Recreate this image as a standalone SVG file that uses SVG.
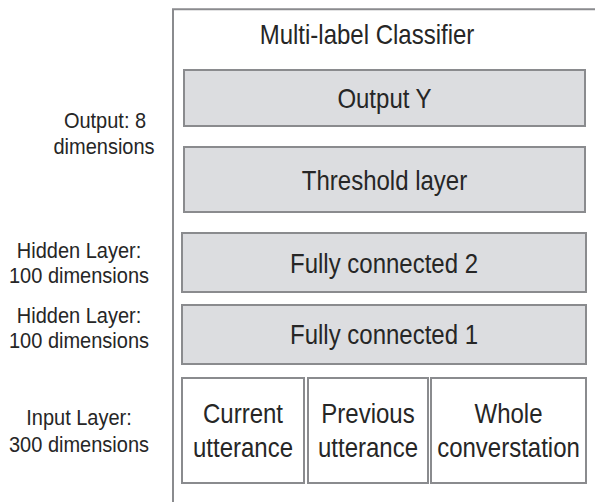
<svg xmlns="http://www.w3.org/2000/svg" width="595" height="502" viewBox="0 0 595 502">
<style>
  .frame { fill: none; stroke: #8a8b8e; stroke-width: 2; }
  .layer { fill: #dcdde0; stroke: #8a8b8e; stroke-width: 2; }
  .input { fill: #ffffff; stroke: #8a8b8e; stroke-width: 2; }
  text { font-family: "Liberation Sans", Arial, sans-serif; fill: #262626; text-anchor: middle; }
  .big { font-size: 24px; }
  .side { font-size: 20px; }
</style>
<rect width="595" height="502" fill="#ffffff"/>
<g id="classifier">
  <path class="frame" d="M173 502 V9.3 H596"/>
  <text class="big" transform="translate(367 43.5) scale(1 1.13)">Multi-label Classifier</text>
</g>
<g id="output-y">
  <rect class="layer" x="184" y="70" width="401" height="56"/>
  <text class="big" transform="translate(384.5 108) scale(1 1.13)">Output Y</text>
</g>
<g id="threshold">
  <rect class="layer" x="184" y="147" width="401" height="65"/>
  <text class="big" transform="translate(384.5 189.5) scale(1 1.13)">Threshold layer</text>
</g>
<g id="fc2">
  <rect class="layer" x="182" y="233" width="404" height="59"/>
  <text class="big" transform="translate(384 272.5) scale(1 1.13)">Fully connected 2</text>
</g>
<g id="fc1">
  <rect class="layer" x="182" y="305" width="404" height="59"/>
  <text class="big" transform="translate(384 344) scale(1 1.13)">Fully connected 1</text>
</g>
<g id="current">
  <rect class="input" x="182" y="378" width="122" height="105"/>
  <text class="big" transform="translate(243 423) scale(1 1.13)">Current</text>
  <text class="big" transform="translate(243 457) scale(1 1.13)">utterance</text>
</g>
<g id="previous">
  <rect class="input" x="308" y="378" width="120" height="105"/>
  <text class="big" transform="translate(368 423) scale(1 1.13)">Previous</text>
  <text class="big" transform="translate(368 457) scale(1 1.13)">utterance</text>
</g>
<g id="whole">
  <rect class="input" x="431" y="378" width="155" height="105"/>
  <text class="big" transform="translate(508.5 423) scale(1 1.13)">Whole</text>
  <text class="big" transform="translate(508.5 457) scale(1 1.13)">converstation</text>
</g>
<g id="labels">
  <text class="side" transform="translate(105 128) scale(1 1.13)">Output: 8</text>
  <text class="side" transform="translate(104 154) scale(1 1.13)">dimensions</text>
  <text class="side" transform="translate(79 258) scale(1 1.13)">Hidden Layer:</text>
  <text class="side" transform="translate(79 283) scale(1 1.13)">100 dimensions</text>
  <text class="side" transform="translate(79 323) scale(1 1.13)">Hidden Layer:</text>
  <text class="side" transform="translate(79 348) scale(1 1.13)">100 dimensions</text>
  <text class="side" transform="translate(79 425) scale(1 1.13)">Input Layer:</text>
  <text class="side" transform="translate(79 452) scale(1 1.13)">300 dimensions</text>
</g>
<g id="connectors"></g>
</svg>
